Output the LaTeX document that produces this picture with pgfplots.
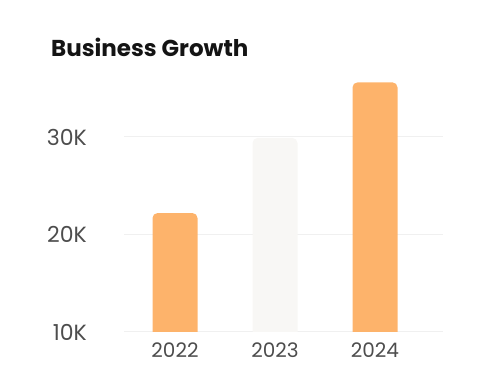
\documentclass[border=0pt]{standalone}
\usepackage{pgfplots}
\pgfplotsset{compat=1.18}
\usepackage{fontspec}
\setmainfont{Poppins}
\definecolor{barorange}{HTML}{FDB36B}
\definecolor{barlight}{HTML}{F8F7F5}
\definecolor{gridc}{HTML}{F0F0F0}
\definecolor{tickc}{HTML}{4D4D4D}
\begin{document}
\begin{tikzpicture}[x=1pt,y=1pt]
\path (0,0) rectangle (500,390);
\node[anchor=base west, inner sep=0pt, font=\fontsize{23}{26}\selectfont\bfseries, text=black!92] at (51,333) {Business Growth};
\begin{axis}[at={(124pt,58pt)}, anchor=south west, scale only axis,
  width=319pt, height=253.5pt,
  xmin=-0.51, xmax=2.68, ymin=10, ymax=36,
  axis line style={draw=none}, major tick length=0pt,
  ymajorgrids, grid style={gridc, line width=1pt},
  xtick={0,1,2}, xticklabels={2022,2023,2024},
  ytick={10,20,30}, yticklabels={10K,20K,30K},
  yticklabel style={font=\fontsize{22}{24}\selectfont, text=tickc, inner sep=0pt, anchor=east, xshift=-37pt},
  xticklabel style={font=\fontsize{20}{22}\selectfont, text=tickc, inner sep=0pt, anchor=north, yshift=-11pt},
]
% bars as closed areas from 0 (bottom clipped at ymin) so only top corners are rounded
\addplot[fill=barorange, draw=none, rounded corners=5pt] coordinates {(-0.225,0) (-0.225,22.2) (0.225,22.2) (0.225,0)} -- cycle;
\addplot[fill=barlight, draw=none, rounded corners=5pt] coordinates {(0.775,0) (0.775,29.9) (1.225,29.9) (1.225,0)} -- cycle;
\addplot[fill=barorange, draw=none, rounded corners=5pt] coordinates {(1.775,0) (1.775,35.6) (2.225,35.6) (2.225,0)} -- cycle;
\end{axis}
\end{tikzpicture}
\end{document}
